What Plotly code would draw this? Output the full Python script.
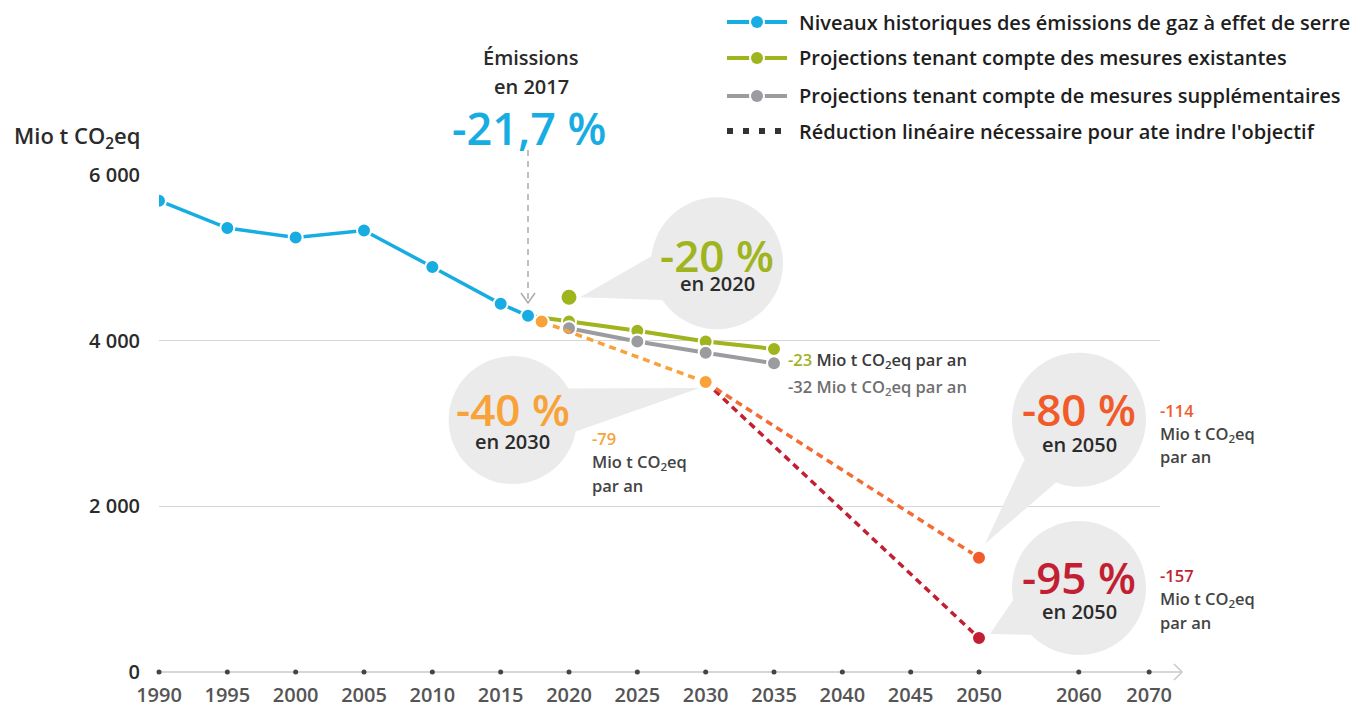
import math
import plotly.graph_objects as go

# ---------------- data ----------------
hist_years = [1990, 1995, 2000, 2005, 2010, 2015, 2017]
hist_values = [5690, 5360, 5245, 5330, 4890, 4445, 4300]

existing_years = [2017, 2020, 2025, 2030, 2035]
existing_values = [4300, 4230, 4120, 3990, 3900]

additional_years = [2020, 2025, 2030, 2035]
additional_values = [4150, 3990, 3855, 3727]

target2020_year = [2020]
target2020_value = [4525]

lin40_years = [2018, 2030]
lin40_values = [4230, 3500]

lin80_years = [2030, 2050]
lin80_values = [3500, 1380]

lin95_years = [2030, 2050]
lin95_values = [3500, 410]

tick_years = [1990, 1995, 2000, 2005, 2010, 2015, 2020, 2025, 2030, 2035,
              2040, 2045, 2050, 2060, 2070]
y_ticks = [0, 2000, 4000, 6000]
y_tick_labels = ["0", "2 000", "4 000", "6 000"]

legend_labels = [
    "Niveaux historiques des émissions de gaz à effet de serre",
    "Projections tenant compte des mesures existantes",
    "Projections tenant compte de mesures supplémentaires",
    "Réduction linéaire nécessaire pour ate indre l'objectif",
]

# ---------------- style / layout constants ----------------
FONT = "Open Sans"
BLUE = "#17ace2"
GREEN = "#a0b41e"
GREY = "#9b9c9f"
ORANGE = "#f8a23a"
ORANGE_RED = "#f15a29"
RED = "#c31f33"
BUBBLE = "#ebebeb"
DARK = "#2b2b2b"

W, H = 1366, 709
PAGE_OFF = 8                              # default body margin of the html page
L, R, T, B = 159, 1160, 175, 672          # plot area in page pixels
X0 = 1990
X1 = 1990 + (R - L) / (820 / 60)         # 2050 sits at 979 px
# compressed tail of the time axis (axis break after 2050)
AXIS_BREAK = {2060: 2057.3, 2070: 2062.45}
tick_pos = [AXIS_BREAK.get(y, y) for y in tick_years]


def px(x):
    return (x - L) / (R - L)


def py(y):
    return (B - y) / (B - T)


fig = go.Figure()

line_marker = dict(size=14, line=dict(color="white", width=2))


def add_line(xs, ys, color, width, dash=None, markers=True):
    fig.add_trace(go.Scatter(x=xs, y=ys, mode="lines+markers" if markers else "lines",
                             line=dict(color=color, width=width, dash=dash),
                             marker=dict(color=color, **line_marker),
                             hoverinfo="skip", showlegend=False))


def add_points(xs, ys, color, size=14):
    fig.add_trace(go.Scatter(x=xs, y=ys, mode="markers",
                             marker=dict(color=color, size=size, line=dict(color="white", width=2)),
                             hoverinfo="skip", showlegend=False))


add_line(existing_years, existing_values, GREEN, 4)
add_line(additional_years, additional_values, GREY, 4)
add_line(lin95_years, lin95_values, RED, 3.5, dash="7px,5px", markers=False)
add_line(lin80_years, lin80_values, "#f36c34", 3.5, dash="7px,5px", markers=False)
add_line(lin40_years, lin40_values, ORANGE, 3.5, dash="7px,5px")
add_points(lin95_years[-1:], lin95_values[-1:], RED)
add_points(lin80_years[-1:], lin80_values[-1:], ORANGE_RED)
add_line(hist_years, hist_values, BLUE, 3.5)
add_points(target2020_year, target2020_value, GREEN, size=17)
# axis tick dots
fig.add_trace(go.Scatter(x=tick_pos, y=[0] * len(tick_pos), mode="markers",
                         marker=dict(color="#444444", size=5), cliponaxis=False,
                         hoverinfo="skip", showlegend=False))

shapes = []
annotations = []


def note(x, y, text, size, color, xanchor="center", weight=600):
    annotations.append(dict(x=px(x), y=py(y), xref="paper", yref="paper",
                            xanchor=xanchor, yanchor="middle", text=text, showarrow=False,
                            font=dict(family=FONT, size=size, color=color, weight=weight)))


# x axis line with arrow
shapes.append(dict(type="line", xref="paper", yref="paper", x0=0, x1=px(1182), y0=0, y1=0,
                   line=dict(color="#c8c8c8", width=1.5), layer="below"))
shapes.append(dict(type="path", xref="paper", yref="paper", xsizemode="pixel", ysizemode="pixel",
                   xanchor=px(1182), yanchor=0, path="M -8,8 L 0,0 L -8,-8",
                   line=dict(color="#c8c8c8", width=1.5)))


def bubble(ax, ay, cx, cy, r, tx, ty, spread_deg, big, big_color, small, dy_big=10, dy_small=-23):
    ang = math.atan2(ty - cy, tx - cx)
    s = math.radians(spread_deg)
    b1 = (cx + r * math.cos(ang + s), cy + r * math.sin(ang + s))
    b2 = (cx + r * math.cos(ang - s), cy + r * math.sin(ang - s))
    common = dict(xref="x", yref="y", xsizemode="pixel", ysizemode="pixel",
                  xanchor=ax, yanchor=ay, fillcolor=BUBBLE, line=dict(width=0),
                  layer="between")
    shapes.append(dict(type="circle", x0=cx - r, x1=cx + r, y0=cy - r, y1=cy + r, **common))
    shapes.append(dict(type="path",
                       path=f"M {tx},{ty} L {b1[0]:.1f},{b1[1]:.1f} L {b2[0]:.1f},{b2[1]:.1f} Z",
                       **common))
    annotations.append(dict(x=ax, y=ay, xref="x", yref="y", xshift=cx, yshift=cy + dy_big,
                            xanchor="center", yanchor="middle",
                            text=big, showarrow=False,
                            font=dict(family=FONT, size=44, color=big_color, weight=600)))
    annotations.append(dict(x=ax, y=ay, xref="x", yref="y", xshift=cx, yshift=cy + dy_small,
                            xanchor="center", yanchor="middle",
                            text=small, showarrow=False,
                            font=dict(family=FONT, size=20, color=DARK, weight=600)))


bubble(target2020_year[0], target2020_value[0], 148, 34, 66, 11, 0, 20, "-20 %", GREEN, "en 2020",
       dy_big=8, dy_small=-20)
bubble(lin40_years[-1], lin40_values[-1], -193, -38, 64, -6, -6, 20, "-40 %", ORANGE, "en 2030",
       dy_big=11, dy_small=-21)
bubble(lin80_years[-1], lin80_values[-1], 100, 138, 67, 6, 14, 17, "-80 %", ORANGE_RED, "en 2050",
       dy_big=11, dy_small=-25)
bubble(lin95_years[-1], lin95_values[-1], 100, 50, 67, 11, 4, 17, "-95 %", RED, "en 2050",
       dy_big=11, dy_small=-23)

# 2017 callout
note(531, 58, "Émissions", 20, DARK)
note(531, 86, "en 2017", 20, DARK)
note(529, 127, "-21,7 %", 45, BLUE)
shapes.append(dict(type="line", xref="x", yref="paper", x0=2017, x1=2017, y0=py(150), y1=py(303),
                   line=dict(color="#aaaaaa", width=1.5, dash="6px,5px")))
shapes.append(dict(type="path", xref="x", yref="paper", xsizemode="pixel", ysizemode="pixel",
                   xanchor=2017, yanchor=py(303), path="M -7,10 L 0,0 L 7,10",
                   line=dict(color="#aaaaaa", width=1.5)))

# y axis title
note(12, 137, "Mio t CO<sub>2</sub>eq", 22, DARK, xanchor="left")

# rate labels
RS = 16.5
note(786, 360, f"<span style='color:{GREEN}'>-23</span> Mio t CO<sub>2</sub>eq par an",
     RS, "#3a3a3a", xanchor="left")
note(786, 387, "-32 Mio t CO<sub>2</sub>eq par an", RS, "#6f6f6f", xanchor="left")


def rate_block(x, y, value, color):
    note(x, y, value, RS, color, xanchor="left")
    note(x, y + 24, "Mio t CO<sub>2</sub>eq", RS, "#444444", xanchor="left")
    note(x, y + 47, "par an", RS, "#444444", xanchor="left")


rate_block(590, 438, "-79", ORANGE)
rate_block(1158, 410, "-114", ORANGE_RED)
rate_block(1158, 575, "-157", RED)

# custom legend
legend_rows = [22, 58, 96, 131]
legend_colors = [BLUE, GREEN, GREY, "#333333"]
for i, (row, lab, col) in enumerate(zip(legend_rows, legend_labels, legend_colors)):
    if i < 3:
        shapes.append(dict(type="line", xref="paper", yref="paper", x0=px(727), x1=px(787),
                           y0=py(row), y1=py(row), line=dict(color=col, width=4)))
        shapes.append(dict(type="circle", xref="paper", yref="paper", xsizemode="pixel",
                           ysizemode="pixel", xanchor=px(757), yanchor=py(row),
                           x0=-8, x1=8, y0=-8, y1=8, fillcolor="white", line=dict(width=0)))
        shapes.append(dict(type="circle", xref="paper", yref="paper", xsizemode="pixel",
                           ysizemode="pixel", xanchor=px(757), yanchor=py(row),
                           x0=-6, x1=6, y0=-6, y1=6, fillcolor=col, line=dict(width=0)))
    else:
        shapes.append(dict(type="line", xref="paper", yref="paper", x0=px(727), x1=px(790),
                           y0=py(row), y1=py(row), line=dict(color=col, width=6, dash="6px,10px")))
    note(797, row, lab, 20, "#1e1e1e", xanchor="left")

fig.update_layout(
    width=W - PAGE_OFF, height=H - PAGE_OFF,
    margin=dict(l=L - PAGE_OFF, r=W - R, t=T - PAGE_OFF, b=H - B, pad=0, autoexpand=False),
    paper_bgcolor="white", plot_bgcolor="white",
    showlegend=False,
    xaxis=dict(range=[X0, X1], tickvals=tick_pos, ticktext=[str(y) for y in tick_years],
               showgrid=False, zeroline=False, showline=False, automargin=False,
               ticks="outside", ticklen=5, tickcolor="rgba(0,0,0,0)",
               tickfont=dict(family=FONT, size=20, color="#555555", weight=600)),
    yaxis=dict(range=[0, 6000], tickvals=y_ticks, ticktext=y_tick_labels,
               showgrid=True, gridcolor="#d6d6d6", gridwidth=1, zeroline=False, showline=False,
               automargin=False,
               ticks="outside", ticklen=14, tickcolor="rgba(0,0,0,0)",
               tickfont=dict(family=FONT, size=20, color=DARK, weight=600)),
    shapes=shapes,
    annotations=annotations,
)

fig.write_html("out.html")
